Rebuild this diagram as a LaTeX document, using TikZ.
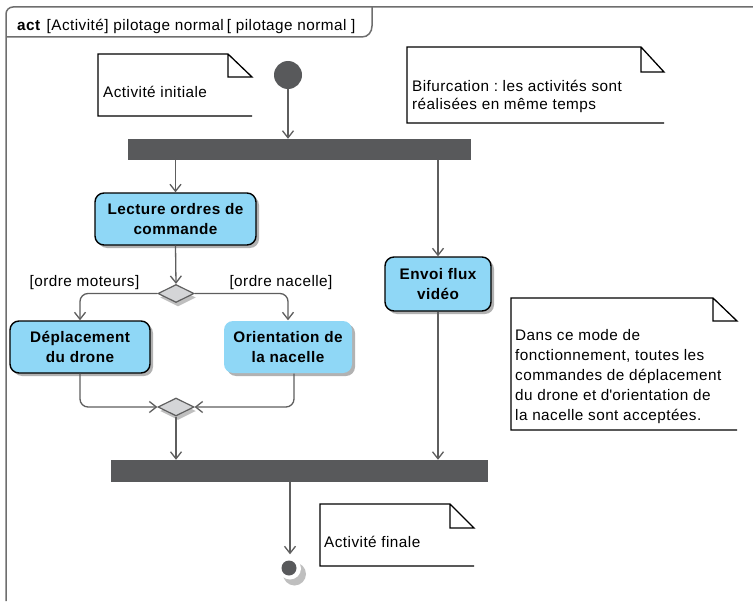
\documentclass[tikz,border=0pt]{standalone}
\usepackage{fontspec}
\setmainfont{Liberation Sans}[LetterSpace=3]
\usetikzlibrary{shapes.geometric,arrows.meta,shadows,calc}
\definecolor{actblue}{HTML}{8FD7F6}
\definecolor{bardark}{HTML}{58595B}
\definecolor{flowgray}{HTML}{5E5E5E}
\definecolor{diamfill}{HTML}{D4D5D7}
\definecolor{framegray}{HTML}{6E6E6E}
% UML note with a folded corner: left, top, fold x, right, fold y, bottom
\newcommand\drawnote[6]{%
  \draw[notepen] (#4,#6) -- (#1,#6) -- (#1,#2) -- (#3,#2) -- (#4,#5) -- (#3,#5) -- (#3,#2);}
\frenchspacing
\begin{document}
\begin{tikzpicture}[x=1pt,y=-1pt,
  txt/.style={font=\fontsize{15.3}{19}\selectfont, inner sep=0pt},
  actbox/.style={rectangle, rounded corners=9pt, fill=actblue, draw=black,
    line width=1.4pt, align=center, inner sep=0pt,
    font=\fontsize{15.3}{20}\selectfont\bfseries,
    drop shadow={shadow xshift=3pt, shadow yshift=-3pt, fill=black!30, opacity=1}},
  bar/.style={rectangle, fill=bardark, inner sep=0pt},
  flow/.style={draw=flowgray, line width=1.3pt,
    -{Straight Barb[length=7pt,width=11pt]}},
  choice/.style={diamond, aspect=2, fill=diamfill, draw=flowgray, line width=1.2pt,
    minimum width=36pt, minimum height=18pt, inner sep=0pt,
    drop shadow={shadow xshift=2pt, shadow yshift=-4pt, fill=black!25, opacity=1}},
  notepen/.style={draw=black, line width=1.3pt}]
\useasboundingbox (0,0) rectangle (753,602);
\clip (0,0) rectangle (753,602);

% frame of the activity diagram
\draw[framegray, line width=1.5pt, rounded corners=7pt] (6,601) -- (6,7) -- (770,7);
\draw[framegray, line width=1.5pt] (6,37) -- (362,37) .. controls (368,37) and (372,32) .. (372,26) -- (372,7);
\node[txt, anchor=base west] (title) at (17,30.5)
  {\textbf{act}\hspace{6pt}[Activité] pilotage normal\hspace{3pt}[ pilotage normal ]};

% initial node and fork bar
\node[circle, fill=bardark, minimum size=28pt, inner sep=0pt] (init) at (288,75) {};
\node[bar, minimum width=343pt, minimum height=21pt] (fork) at (299.5,149.5) {};

% actions
\node[actbox, minimum width=161pt, minimum height=52pt] (lect) at (175.5,219)
  {Lecture ordres de\\commande};
\node[actbox, minimum width=106pt, minimum height=54pt] (envoi) at (438,284)
  {Envoi flux\\vidéo};
\node[actbox, minimum width=140pt, minimum height=52pt] (depl) at (80,347)
  {Déplacement\\du drone};
\node[actbox, draw=none, minimum width=128pt, minimum height=52pt] (orie) at (288,347)
  {Orientation de\\la nacelle};

% decision and merge
\node[choice] (dec) at (176,293.5) {};
\node[choice] (merge) at (176,407) {};

% join bar and final node
\node[bar, minimum width=377pt, minimum height=22pt] (join) at (299.5,471) {};
\fill[black!25] (294.5,574) circle (11.5);
\node[circle, fill=white, minimum size=22pt, inner sep=0pt] (final) at (290,568.5) {};
\fill[bardark] (289,568) circle (7.5);

% guards
\node[txt] (gmot) at (84.5,283) {[ordre moteurs]};
\node[txt] (gnac) at (281,283) {[ordre nacelle]};

% flows
\draw[flow] (init) -- (init.south |- fork.north);
\draw[flow] (lect.north |- fork.south) -- (lect.north);
\draw[flow] (envoi.north |- fork.south) -- (envoi.north);
\draw[flow] (lect.south) -- (dec.north);
\draw[flow, rounded corners=8pt] (dec.west) -| (depl.north);
\draw[flow, rounded corners=8pt] (dec.east) -| (orie.north);
\draw[flow, rounded corners=8pt] (depl.south) |- (merge.west);
\coordinate (orieout) at ([xshift=6pt]orie.south);
\draw[flow, rounded corners=8pt] (orieout) |- (merge.east);
\draw[flow] (merge.south) -- (merge.south |- join.north);
\draw[flow] (envoi.south) -- (envoi.south |- join.north);
\draw[flow, shorten >=3pt] (final.north |- join.south) -- (final.north);

% notes
\drawnote{98}{54}{228}{252}{77}{116}
\node[txt, anchor=west] (ninit) at (103,92) {Activité initiale};
\drawnote{407}{47}{641}{664}{72}{123}
\node[txt, anchor=north west, align=left, font=\fontsize{15.3}{18}\selectfont] (nbif) at (412,80)
  {Bifurcation : les activités sont\\réalisées en même temps};
\drawnote{511}{298}{713}{737}{321}{430}
\node[txt, anchor=north west, align=left, font=\fontsize{15.3}{20}\selectfont] (nmode) at (515,329)
  {Dans ce mode de\\fonctionnement, toutes les\\commandes de déplacement\\du drone et d\textquotesingle orientation de\\la nacelle sont acceptées.};
\drawnote{320}{504}{450}{474}{528}{566}
\node[txt, anchor=west] (nfin) at (324,542) {Activité finale};
\end{tikzpicture}
\end{document}
